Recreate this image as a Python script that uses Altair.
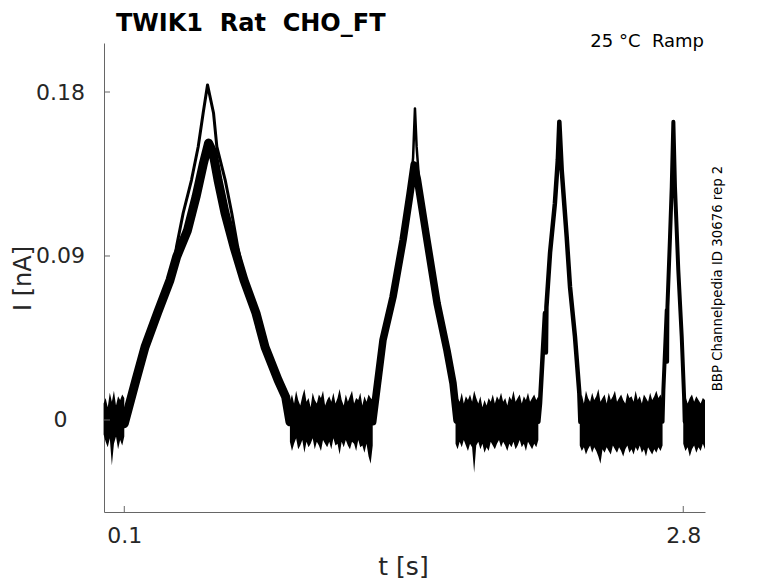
import altair as alt
import pandas as pd

# ---------------- data ----------------
# Ramp centre lines: time [s] and current [nA]
r1_group_t = [0.100, 0.1565, 0.200, 0.2604, 0.3208, 0.353, 0.405, 0.4464, 0.4826, 0.507, 0.528, 0.5527, 0.5865, 0.630, 0.678, 0.736, 0.780, 0.8425, 0.8797, 0.900]
r1_group_i = [-0.002, 0.022, 0.040, 0.0587, 0.0768, 0.0896, 0.104, 0.1224, 0.141, 0.152, 0.147, 0.1317, 0.1136, 0.095, 0.0768, 0.0587, 0.040, 0.022, 0.0126, -0.001]

r1_upper_t = [0.340, 0.352, 0.3845, 0.4246, 0.457, 0.481, 0.502, 0.531, 0.547, 0.5874, 0.619, 0.648, 0.665, 0.690]
r1_upper_i = [0.086, 0.095, 0.1136, 0.1317, 0.150, 0.1685, 0.1839, 0.1685, 0.150, 0.1317, 0.1136, 0.095, 0.086, 0.074]

r2_group_t = [1.300, 1.3498, 1.398, 1.447, 1.480, 1.500, 1.516, 1.562, 1.611, 1.659, 1.688, 1.707]
r2_group_i = [-0.001, 0.044, 0.0675, 0.099, 0.124, 0.140, 0.132, 0.0988, 0.064, 0.038, 0.020, 0.000]

r2_upper_t = [1.480, 1.495, 1.504, 1.512, 1.525]
r2_upper_i = [0.125, 0.144, 0.171, 0.150, 0.130]

r3_t = [2.100, 2.108, 2.132, 2.1365, 2.139, 2.1565, 2.180, 2.194, 2.2014, 2.213, 2.237, 2.253, 2.277, 2.298, 2.303]
r3_i = [-0.001, 0.009, 0.0587, 0.037, 0.062, 0.0917, 0.119, 0.1427, 0.1637, 0.137, 0.1004, 0.073, 0.0456, 0.0148, -0.001]

r4_t = [2.700, 2.704, 2.7203, 2.722, 2.7235, 2.736, 2.7444, 2.7522, 2.760, 2.776, 2.7926, 2.804, 2.807]
r4_i = [-0.001, 0.0165, 0.0604, 0.032, 0.062, 0.1004, 0.1279, 0.1637, 0.1279, 0.0823, 0.0456, 0.0126, -0.001]

# Baseline noise envelopes (upper / lower edge of the overlaid sweeps), sampled every ~10 ms
seg_start = [0.00, 0.90, 1.70, 2.30, 2.80]
seg_end = [0.10, 1.30, 2.10, 2.70, 2.905]

up_A = [0.009, 0.012, 0.007, 0.015, 0.010, 0.016, 0.008, 0.013, 0.011, 0.014, 0.012]
lo_A = [-0.008, -0.012, -0.015, -0.010, -0.025, -0.013, -0.009, -0.016, -0.011, -0.014, -0.009]

up_B = [0.010, 0.014, 0.009, 0.016, 0.011, 0.008, 0.013, 0.017, 0.010, 0.012, 0.007, 0.015, 0.011, 0.009,
        0.014, 0.012, 0.016, 0.008, 0.011, 0.013, 0.010, 0.015, 0.009, 0.012, 0.017, 0.011, 0.008, 0.014,
        0.010, 0.013, 0.016, 0.009, 0.012, 0.011, 0.015, 0.008, 0.013, 0.010, 0.014, 0.012, 0.011]
lo_B = [-0.012, -0.017, -0.013, -0.010, -0.016, -0.014, -0.011, -0.018, -0.012, -0.015, -0.013, -0.010, -0.016, -0.012,
        -0.014, -0.017, -0.011, -0.013, -0.015, -0.012, -0.016, -0.010, -0.014, -0.013, -0.019, -0.012, -0.015, -0.011,
        -0.014, -0.016, -0.012, -0.013, -0.017, -0.011, -0.015, -0.014, -0.018, -0.013, -0.020, -0.024, -0.014]

up_C = [0.008, 0.012, 0.010, 0.015, 0.009, 0.013, 0.011, 0.014, 0.010, 0.016, 0.012, 0.009, 0.013, 0.007,
        0.011, 0.008, 0.012, 0.010, 0.014, 0.009, 0.013, 0.011, 0.015, 0.010, 0.012, 0.008, 0.013, 0.011,
        0.016, 0.010, 0.012, 0.014, 0.009, 0.013, 0.011, 0.015, 0.010, 0.012, 0.014, 0.011, 0.013]
lo_C = [-0.013, -0.016, -0.012, -0.015, -0.011, -0.014, -0.017, -0.013, -0.015, -0.029, -0.014, -0.012, -0.016, -0.013,
        -0.018, -0.015, -0.017, -0.012, -0.014, -0.016, -0.013, -0.011, -0.015, -0.012, -0.014, -0.017, -0.013, -0.015,
        -0.012, -0.016, -0.014, -0.011, -0.015, -0.013, -0.017, -0.012, -0.014, -0.016, -0.013, -0.015, -0.011]

up_D = [0.011, 0.014, 0.009, 0.016, 0.012, 0.010, 0.015, 0.011, 0.013, 0.017, 0.010, 0.012, 0.014, 0.009,
        0.015, 0.011, 0.013, 0.016, 0.010, 0.012, 0.014, 0.011, 0.009, 0.015, 0.012, 0.013, 0.010, 0.016,
        0.011, 0.013, 0.009, 0.014, 0.012, 0.010, 0.015, 0.011, 0.013, 0.016, 0.012, 0.014, 0.011]
lo_D = [-0.014, -0.017, -0.015, -0.019, -0.016, -0.014, -0.018, -0.015, -0.017, -0.020, -0.024, -0.016, -0.018, -0.015,
        -0.017, -0.019, -0.014, -0.016, -0.018, -0.015, -0.017, -0.020, -0.016, -0.014, -0.018, -0.016, -0.019, -0.015,
        -0.017, -0.014, -0.018, -0.016, -0.020, -0.015, -0.017, -0.019, -0.016, -0.018, -0.015, -0.017, -0.014]

up_E = [0.010, 0.013, 0.009, 0.012, 0.014, 0.010, 0.013, 0.011, 0.009, 0.012, 0.011]
lo_E = [-0.013, -0.017, -0.015, -0.020, -0.016, -0.014, -0.018, -0.015, -0.017, -0.013, -0.016]

x_ticks = [0.1, 2.8]
y_ticks = [0, 0.09, 0.18]

# ---------------- build tables ----------------
sweeps = {
    "r1_group": (r1_group_t, r1_group_i),
    "r1_upper": (r1_upper_t, r1_upper_i),
    "r2_group": (r2_group_t, r2_group_i),
    "r2_upper": (r2_upper_t, r2_upper_i),
    "r3": (r3_t, r3_i),
    "r4": (r4_t, r4_i),
}
stroke_w = {"r1_group": 9, "r1_upper": 3, "r2_group": 7.5, "r2_upper": 2.5, "r3": 4.5, "r4": 4}

line_rows = []
for name, (ts, vs) in sweeps.items():
    for t, v in zip(ts, vs):
        line_rows.append({"t": t, "i": v, "sweep": name, "w": stroke_w[name]})
lines_df = pd.DataFrame(line_rows)

noise_up = [up_A, up_B, up_C, up_D, up_E]
noise_lo = [lo_A, lo_B, lo_C, lo_D, lo_E]
noise_rows = []
for k, (s, e, ups, los) in enumerate(zip(seg_start, seg_end, noise_up, noise_lo)):
    n = len(ups)
    for j in range(n):
        noise_rows.append({"t": s + (e - s) * j / (n - 1), "up": ups[j], "lo": los[j], "seg": k})
noise_df = pd.DataFrame(noise_rows)

xt_df = pd.DataFrame({"t": x_ticks})
yt_df = pd.DataFrame({"i": y_ticks})

FONT = "DejaVu Sans"
W, H = 601, 469
xscale = alt.Scale(domain=[0.002, 2.905], nice=False, zero=False)
yscale = alt.Scale(domain=[-0.0505, 0.2069], nice=False, zero=False)

x_axis = alt.Axis(values=x_ticks, format=".1f", title="t [s]", grid=False, ticks=False, tickSize=0,
                  labelFontSize=22, labelPadding=13, labelFlush=False, labelColor="#262626",
                  titleFontSize=25, titleFontWeight="normal", titleColor="#262626",
                  titleX=299, titleY=62, titleBaseline="alphabetic", titleAlign="center",
                  domainColor="#666666", labelFont=FONT, titleFont=FONT)
y_axis = alt.Axis(values=y_ticks, format=".2~f", title="I [nA]", grid=False, ticks=False, tickSize=0,
                  labelFontSize=22, labelPadding=44, labelAlign="center", labelBaseline="middle",
                  labelFlush=False, labelOverlap=False, labelColor="#262626",
                  titleFontSize=24, titleFontWeight="normal", titleColor="#262626",
                  titleAngle=270, titleX=-73.5, titleY=235, titleBaseline="alphabetic", titleAlign="center",
                  domainColor="#666666", labelFont=FONT, titleFont=FONT)

noise = alt.Chart(noise_df).mark_area(color="black", opacity=1, interpolate="linear").encode(
    x=alt.X("t:Q", scale=xscale, axis=x_axis),
    y=alt.Y("lo:Q", scale=yscale, axis=y_axis),
    y2="up:Q",
    detail="seg:N",
)

ramps = alt.Chart(lines_df).mark_line(color="black", strokeJoin="round", strokeCap="round").encode(
    x=alt.X("t:Q", scale=xscale),
    y=alt.Y("i:Q", scale=yscale),
    detail="sweep:N",
    strokeWidth=alt.StrokeWidth("w:Q", scale=None),
    order="t:Q",
)

xticks = alt.Chart(xt_df).mark_rule(color="#666666", strokeWidth=1).encode(
    x=alt.X("t:Q", scale=xscale), y=alt.value(H), y2=alt.value(H - 6)
)
yticks = alt.Chart(yt_df).mark_rule(color="#666666", strokeWidth=1).encode(
    y=alt.Y("i:Q", scale=yscale), x=alt.value(0), x2=alt.value(6)
)

one = alt.Data(values=[{}])
title_txt = alt.Chart(one).mark_text(
    text="TWIK1 \u00a0Rat \u00a0CHO_FT", font=FONT, fontSize=24, fontWeight="bold", color="black",
    align="left", baseline="alphabetic"
).encode(x=alt.value(12), y=alt.value(-12.5))
cond_txt = alt.Chart(one).mark_text(
    text="25 °C \u00a0Ramp", font=FONT, fontSize=18, color="black", align="right", baseline="alphabetic"
).encode(x=alt.value(600), y=alt.value(4))
id_txt = alt.Chart(one).mark_text(
    text="BBP Channelpedia ID 30676 rep 2", font=FONT, fontSize=13.3, color="black",
    align="center", baseline="alphabetic", angle=270
).encode(x=alt.value(617.5), y=alt.value(235.5))

chart = alt.layer(noise, ramps, xticks, yticks, title_txt, cond_txt, id_txt).properties(
    width=W, height=H,
    autosize=alt.AutoSizeParams(type="none"),
    padding={"left": 96, "top": 35, "right": 60, "bottom": 72},
).configure_view(stroke=None).configure_axis(domainWidth=1)

chart.save("out.html", embed_options={"renderer": "svg", "actions": False})
